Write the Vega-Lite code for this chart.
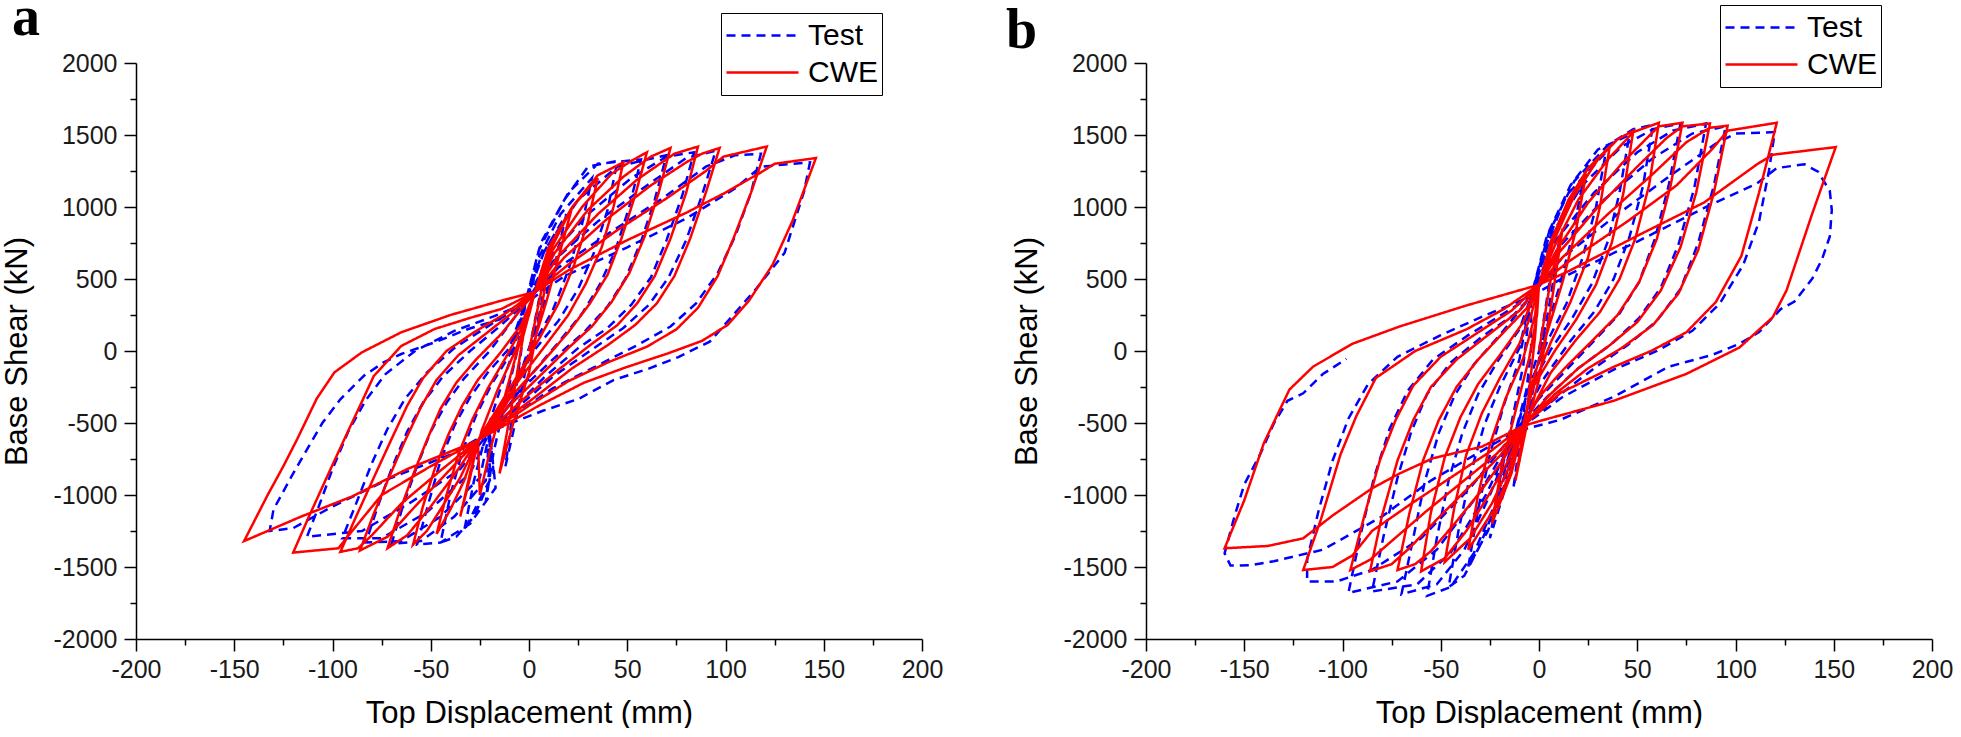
{
"$schema": "https://vega.github.io/schema/vega-lite/v6.json",
"padding": {"left": 1, "top": -11, "right": 5, "bottom": 0},
"bounds": "flush",
"spacing": 224,
"config": {
  "view": {"stroke": null},
  "font": "Liberation Sans",
  "axis": {"grid": false, "domainColor": "black", "domainWidth": 1.5, "tickColor": "black", "tickWidth": 1.5, "tickSize": 12,
    "labelFont": "Liberation Sans", "labelFontSize": 25, "labelColor": "#1a1a1a", "labelFlush": false, "labelOverlap": false,
    "titleFont": "Liberation Sans", "titleFontSize": 31, "titleFontWeight": "normal", "titleColor": "black"},
  "legend": {"orient": "none", "title": null, "strokeColor": "black", "fillColor": "white", "padding": 4,
    "labelFont": "Liberation Sans", "labelFontSize": 30, "labelColor": "black", "labelOffset": 8,
    "symbolType": "stroke", "symbolSize": 5184, "symbolStrokeWidth": 2.5, "clipHeight": 37, "rowPadding": 0},
  "title": {"font": "Liberation Serif", "fontSize": 56, "fontWeight": "bold", "color": "black", "anchor": "start", "frame": "group"}
},
"resolve": {"scale": {"color": "independent", "strokeDash": "independent"}},
"datasets": {
"a": [
{"s":"Test","x":0,"y":0},{"s":"Test","x":5,"y":350},{"s":"Test","x":10,"y":650},{"s":"Test","x":6,"y":300},{"s":"Test","x":-2,"y":-150},{"s":"Test","x":-7,"y":-500},{"s":"Test","x":-12,"y":-800},{"s":"Test","x":-8,"y":-400},{"s":"Test","x":-4,"y":0},{"s":"Test","x":-2,"y":330},
{"s":"Test","x":6,"y":650},{"s":"Test","x":19,"y":950},{"s":"Test","x":14,"y":650},{"s":"Test","x":7,"y":300},{"s":"Test","x":-3,"y":-100},{"s":"Test","x":-12,"y":-350},{"s":"Test","x":-20,"y":-560},{"s":"Test","x":-20,"y":-800},{"s":"Test","x":-22,"y":-1050},{"s":"Test","x":-18,"y":-700},{"s":"Test","x":-12,"y":-350},{"s":"Test","x":-6,"y":0},{"s":"Test","x":-2,"y":330},
{"s":"Test","x":5,"y":650},{"s":"Test","x":16,"y":950},{"s":"Test","x":32,"y":1200},{"s":"Test","x":27,"y":880},{"s":"Test","x":20,"y":560},{"s":"Test","x":12,"y":280},{"s":"Test","x":2,"y":40},{"s":"Test","x":-8,"y":-250},{"s":"Test","x":-20,"y":-560},{"s":"Test","x":-18,"y":-850},{"s":"Test","x":-24,"y":-1000},{"s":"Test","x":-33,"y":-1250},{"s":"Test","x":-28,"y":-900},{"s":"Test","x":-22,"y":-580},{"s":"Test","x":-15,"y":-280},{"s":"Test","x":-8,"y":0},{"s":"Test","x":-2,"y":330},
{"s":"Test","x":5,"y":700},{"s":"Test","x":18,"y":1050},{"s":"Test","x":30,"y":1280},{"s":"Test","x":45,"y":1320},{"s":"Test","x":40,"y":980},{"s":"Test","x":33,"y":680},{"s":"Test","x":25,"y":430},{"s":"Test","x":15,"y":210},{"s":"Test","x":3,"y":10},{"s":"Test","x":-8,"y":-250},{"s":"Test","x":-20,"y":-560},{"s":"Test","x":-20,"y":-900},{"s":"Test","x":-28,"y":-1150},{"s":"Test","x":-37,"y":-1290},{"s":"Test","x":-45,"y":-1330},{"s":"Test","x":-40,"y":-1000},{"s":"Test","x":-34,"y":-700},{"s":"Test","x":-27,"y":-450},{"s":"Test","x":-19,"y":-230},{"s":"Test","x":-10,"y":-30},{"s":"Test","x":-2,"y":330},
{"s":"Test","x":6,"y":750},{"s":"Test","x":20,"y":1100},{"s":"Test","x":35,"y":1300},{"s":"Test","x":57,"y":1330},{"s":"Test","x":51,"y":1000},{"s":"Test","x":44,"y":700},{"s":"Test","x":36,"y":460},{"s":"Test","x":27,"y":260},{"s":"Test","x":15,"y":60},{"s":"Test","x":2,"y":-150},{"s":"Test","x":-20,"y":-560},{"s":"Test","x":-17,"y":-950},{"s":"Test","x":-30,"y":-1200},{"s":"Test","x":-45,"y":-1330},{"s":"Test","x":-57,"y":-1345},{"s":"Test","x":-51,"y":-1050},{"s":"Test","x":-45,"y":-760},{"s":"Test","x":-38,"y":-520},{"s":"Test","x":-30,"y":-320},{"s":"Test","x":-21,"y":-150},{"s":"Test","x":-10,"y":20},{"s":"Test","x":-2,"y":330},
{"s":"Test","x":8,"y":700},{"s":"Test","x":25,"y":1050},{"s":"Test","x":45,"y":1280},{"s":"Test","x":60,"y":1330},{"s":"Test","x":70,"y":1360},{"s":"Test","x":64,"y":1050},{"s":"Test","x":57,"y":760},{"s":"Test","x":49,"y":500},{"s":"Test","x":40,"y":310},{"s":"Test","x":28,"y":130},{"s":"Test","x":12,"y":-60},{"s":"Test","x":-5,"y":-280},{"s":"Test","x":-20,"y":-560},{"s":"Test","x":-22,"y":-900},{"s":"Test","x":-38,"y":-1150},{"s":"Test","x":-55,"y":-1320},{"s":"Test","x":-70,"y":-1340},{"s":"Test","x":-64,"y":-1070},{"s":"Test","x":-57,"y":-800},{"s":"Test","x":-50,"y":-560},{"s":"Test","x":-42,"y":-360},{"s":"Test","x":-33,"y":-190},{"s":"Test","x":-20,"y":0},{"s":"Test","x":-2,"y":330},
{"s":"Test","x":10,"y":650},{"s":"Test","x":30,"y":950},{"s":"Test","x":52,"y":1200},{"s":"Test","x":70,"y":1350},{"s":"Test","x":84,"y":1380},{"s":"Test","x":78,"y":1080},{"s":"Test","x":70,"y":770},{"s":"Test","x":62,"y":510},{"s":"Test","x":52,"y":320},{"s":"Test","x":40,"y":160},{"s":"Test","x":25,"y":20},{"s":"Test","x":8,"y":-180},{"s":"Test","x":-20,"y":-560},{"s":"Test","x":-25,"y":-880},{"s":"Test","x":-45,"y":-1150},{"s":"Test","x":-65,"y":-1320},{"s":"Test","x":-83,"y":-1330},{"s":"Test","x":-77,"y":-1080},{"s":"Test","x":-70,"y":-820},{"s":"Test","x":-62,"y":-560},{"s":"Test","x":-54,"y":-360},{"s":"Test","x":-44,"y":-180},{"s":"Test","x":-30,"y":0},{"s":"Test","x":-15,"y":170},{"s":"Test","x":-2,"y":330},
{"s":"Test","x":12,"y":620},{"s":"Test","x":35,"y":900},{"s":"Test","x":60,"y":1150},{"s":"Test","x":80,"y":1340},{"s":"Test","x":95,"y":1390},{"s":"Test","x":88,"y":1080},{"s":"Test","x":80,"y":770},{"s":"Test","x":71,"y":510},{"s":"Test","x":61,"y":320},{"s":"Test","x":48,"y":160},{"s":"Test","x":32,"y":10},{"s":"Test","x":12,"y":-180},{"s":"Test","x":-20,"y":-560},{"s":"Test","x":-30,"y":-850},{"s":"Test","x":-52,"y":-1120},{"s":"Test","x":-75,"y":-1300},{"s":"Test","x":-95,"y":-1300},{"s":"Test","x":-88,"y":-1060},{"s":"Test","x":-80,"y":-780},{"s":"Test","x":-72,"y":-540},{"s":"Test","x":-63,"y":-330},{"s":"Test","x":-52,"y":-150},{"s":"Test","x":-38,"y":20},{"s":"Test","x":-20,"y":180},{"s":"Test","x":-2,"y":330},
{"s":"Test","x":15,"y":580},{"s":"Test","x":42,"y":830},{"s":"Test","x":68,"y":1060},{"s":"Test","x":90,"y":1280},{"s":"Test","x":105,"y":1360},{"s":"Test","x":118,"y":1370},{"s":"Test","x":113,"y":1100},{"s":"Test","x":105,"y":800},{"s":"Test","x":96,"y":540},{"s":"Test","x":85,"y":330},{"s":"Test","x":72,"y":170},{"s":"Test","x":55,"y":40},{"s":"Test","x":35,"y":-100},{"s":"Test","x":12,"y":-260},{"s":"Test","x":-20,"y":-560},{"s":"Test","x":-35,"y":-820},{"s":"Test","x":-60,"y":-1050},{"s":"Test","x":-85,"y":-1250},{"s":"Test","x":-113,"y":-1290},{"s":"Test","x":-107,"y":-1080},{"s":"Test","x":-100,"y":-820},{"s":"Test","x":-92,"y":-560},{"s":"Test","x":-83,"y":-340},{"s":"Test","x":-73,"y":-160},{"s":"Test","x":-58,"y":0},{"s":"Test","x":-38,"y":140},{"s":"Test","x":-18,"y":240},{"s":"Test","x":-2,"y":330},
{"s":"Test","x":18,"y":520},{"s":"Test","x":50,"y":720},{"s":"Test","x":80,"y":920},{"s":"Test","x":105,"y":1130},{"s":"Test","x":118,"y":1280},{"s":"Test","x":143,"y":1310},{"s":"Test","x":140,"y":1108},{"s":"Test","x":130,"y":680},{"s":"Test","x":116,"y":439},{"s":"Test","x":104,"y":251},{"s":"Test","x":92,"y":65},{"s":"Test","x":76,"y":-42},{"s":"Test","x":61,"y":-122},{"s":"Test","x":43,"y":-202},{"s":"Test","x":25,"y":-334},{"s":"Test","x":7,"y":-415},{"s":"Test","x":-20,"y":-560},{"s":"Test","x":-40,"y":-720},{"s":"Test","x":-70,"y":-880},{"s":"Test","x":-100,"y":-1080},{"s":"Test","x":-120,"y":-1230},{"s":"Test","x":-132,"y":-1250},{"s":"Test","x":-130,"y":-1100},{"s":"Test","x":-120,"y":-850},{"s":"Test","x":-110,"y":-613},{"s":"Test","x":-105,"y":-497},{"s":"Test","x":-96,"y":-335},{"s":"Test","x":-84,"y":-172},{"s":"Test","x":-74,"y":-79},{"s":"Test","x":-65,"y":-21},{"s":"Test","x":-48,"y":60},{"s":"Test","x":-31,"y":153},{"s":"Test","x":-14,"y":223},
{"s":"CWE","x":0,"y":0},{"s":"CWE","x":6,"y":400},{"s":"CWE","x":12,"y":750},{"s":"CWE","x":7,"y":350},{"s":"CWE","x":0,"y":-150},{"s":"CWE","x":-8,"y":-500},{"s":"CWE","x":-15,"y":-850},{"s":"CWE","x":-9,"y":-400},{"s":"CWE","x":-3,"y":100},{"s":"CWE","x":3,"y":410},
{"s":"CWE","x":10,"y":680},{"s":"CWE","x":22,"y":1000},{"s":"CWE","x":16,"y":700},{"s":"CWE","x":9,"y":350},{"s":"CWE","x":0,"y":-50},{"s":"CWE","x":-12,"y":-380},{"s":"CWE","x":-26,"y":-620},{"s":"CWE","x":-25,"y":-1000},{"s":"CWE","x":-20,"y":-700},{"s":"CWE","x":-13,"y":-350},{"s":"CWE","x":-6,"y":0},{"s":"CWE","x":0,"y":250},{"s":"CWE","x":3,"y":410},
{"s":"CWE","x":10,"y":720},{"s":"CWE","x":22,"y":1000},{"s":"CWE","x":35,"y":1200},{"s":"CWE","x":30,"y":900},{"s":"CWE","x":23,"y":600},{"s":"CWE","x":15,"y":330},{"s":"CWE","x":5,"y":80},{"s":"CWE","x":-8,"y":-220},{"s":"CWE","x":-26,"y":-620},{"s":"CWE","x":-30,"y":-880},{"s":"CWE","x":-35,"y":-1150},{"s":"CWE","x":-30,"y":-850},{"s":"CWE","x":-24,"y":-550},{"s":"CWE","x":-16,"y":-270},{"s":"CWE","x":-7,"y":0},{"s":"CWE","x":0,"y":250},{"s":"CWE","x":3,"y":410},
{"s":"CWE","x":10,"y":700},{"s":"CWE","x":22,"y":1000},{"s":"CWE","x":35,"y":1220},{"s":"CWE","x":48,"y":1310},{"s":"CWE","x":43,"y":1000},{"s":"CWE","x":37,"y":720},{"s":"CWE","x":29,"y":470},{"s":"CWE","x":20,"y":250},{"s":"CWE","x":9,"y":50},{"s":"CWE","x":-5,"y":-200},{"s":"CWE","x":-26,"y":-620},{"s":"CWE","x":-33,"y":-900},{"s":"CWE","x":-40,"y":-1100},{"s":"CWE","x":-47,"y":-1270},{"s":"CWE","x":-42,"y":-1000},{"s":"CWE","x":-36,"y":-720},{"s":"CWE","x":-29,"y":-480},{"s":"CWE","x":-21,"y":-260},{"s":"CWE","x":-12,"y":-50},{"s":"CWE","x":-2,"y":200},{"s":"CWE","x":3,"y":410},
{"s":"CWE","x":12,"y":700},{"s":"CWE","x":27,"y":1000},{"s":"CWE","x":42,"y":1230},{"s":"CWE","x":52,"y":1320},{"s":"CWE","x":60,"y":1380},{"s":"CWE","x":54,"y":1080},{"s":"CWE","x":47,"y":780},{"s":"CWE","x":40,"y":530},{"s":"CWE","x":31,"y":330},{"s":"CWE","x":20,"y":130},{"s":"CWE","x":8,"y":-60},{"s":"CWE","x":-8,"y":-300},{"s":"CWE","x":-26,"y":-620},{"s":"CWE","x":-35,"y":-880},{"s":"CWE","x":-45,"y":-1100},{"s":"CWE","x":-52,"y":-1250},{"s":"CWE","x":-59,"y":-1345},{"s":"CWE","x":-54,"y":-1080},{"s":"CWE","x":-48,"y":-820},{"s":"CWE","x":-41,"y":-580},{"s":"CWE","x":-34,"y":-380},{"s":"CWE","x":-26,"y":-200},{"s":"CWE","x":-15,"y":-20},{"s":"CWE","x":-4,"y":180},{"s":"CWE","x":3,"y":410},
{"s":"CWE","x":13,"y":680},{"s":"CWE","x":30,"y":980},{"s":"CWE","x":48,"y":1210},{"s":"CWE","x":62,"y":1350},{"s":"CWE","x":72,"y":1410},{"s":"CWE","x":66,"y":1100},{"s":"CWE","x":59,"y":800},{"s":"CWE","x":51,"y":540},{"s":"CWE","x":42,"y":340},{"s":"CWE","x":32,"y":170},{"s":"CWE","x":20,"y":20},{"s":"CWE","x":5,"y":-180},{"s":"CWE","x":-10,"y":-380},{"s":"CWE","x":-26,"y":-620},{"s":"CWE","x":-38,"y":-860},{"s":"CWE","x":-50,"y":-1080},{"s":"CWE","x":-62,"y":-1280},{"s":"CWE","x":-72,"y":-1370},{"s":"CWE","x":-66,"y":-1120},{"s":"CWE","x":-59,"y":-860},{"s":"CWE","x":-52,"y":-620},{"s":"CWE","x":-45,"y":-400},{"s":"CWE","x":-37,"y":-220},{"s":"CWE","x":-27,"y":-60},{"s":"CWE","x":-14,"y":120},{"s":"CWE","x":3,"y":410},
{"s":"CWE","x":15,"y":660},{"s":"CWE","x":35,"y":950},{"s":"CWE","x":55,"y":1190},{"s":"CWE","x":74,"y":1370},{"s":"CWE","x":86,"y":1420},{"s":"CWE","x":80,"y":1100},{"s":"CWE","x":72,"y":780},{"s":"CWE","x":64,"y":520},{"s":"CWE","x":55,"y":330},{"s":"CWE","x":45,"y":180},{"s":"CWE","x":32,"y":50},{"s":"CWE","x":15,"y":-130},{"s":"CWE","x":0,"y":-300},{"s":"CWE","x":-26,"y":-620},{"s":"CWE","x":-42,"y":-850},{"s":"CWE","x":-58,"y":-1080},{"s":"CWE","x":-72,"y":-1290},{"s":"CWE","x":-86,"y":-1385},{"s":"CWE","x":-79,"y":-1130},{"s":"CWE","x":-71,"y":-870},{"s":"CWE","x":-63,"y":-620},{"s":"CWE","x":-55,"y":-390},{"s":"CWE","x":-47,"y":-200},{"s":"CWE","x":-36,"y":-30},{"s":"CWE","x":-22,"y":120},{"s":"CWE","x":-8,"y":270},{"s":"CWE","x":3,"y":410},
{"s":"CWE","x":18,"y":650},{"s":"CWE","x":40,"y":920},{"s":"CWE","x":62,"y":1150},{"s":"CWE","x":80,"y":1310},{"s":"CWE","x":88,"y":1370},{"s":"CWE","x":97,"y":1410},{"s":"CWE","x":90,"y":1100},{"s":"CWE","x":82,"y":780},{"s":"CWE","x":74,"y":520},{"s":"CWE","x":65,"y":330},{"s":"CWE","x":54,"y":180},{"s":"CWE","x":40,"y":40},{"s":"CWE","x":22,"y":-120},{"s":"CWE","x":5,"y":-300},{"s":"CWE","x":-26,"y":-620},{"s":"CWE","x":-45,"y":-830},{"s":"CWE","x":-65,"y":-1060},{"s":"CWE","x":-80,"y":-1280},{"s":"CWE","x":-87,"y":-1370},{"s":"CWE","x":-96,"y":-1395},{"s":"CWE","x":-88,"y":-1150},{"s":"CWE","x":-79,"y":-880},{"s":"CWE","x":-70,"y":-613},{"s":"CWE","x":-62,"y":-380},{"s":"CWE","x":-54,"y":-190},{"s":"CWE","x":-42,"y":0},{"s":"CWE","x":-28,"y":130},{"s":"CWE","x":-12,"y":260},{"s":"CWE","x":3,"y":410},
{"s":"CWE","x":20,"y":600},{"s":"CWE","x":45,"y":840},{"s":"CWE","x":70,"y":1060},{"s":"CWE","x":90,"y":1250},{"s":"CWE","x":99,"y":1350},{"s":"CWE","x":121,"y":1420},{"s":"CWE","x":113,"y":1100},{"s":"CWE","x":104,"y":780},{"s":"CWE","x":96,"y":520},{"s":"CWE","x":86,"y":300},{"s":"CWE","x":75,"y":150},{"s":"CWE","x":60,"y":30},{"s":"CWE","x":40,"y":-80},{"s":"CWE","x":20,"y":-210},{"s":"CWE","x":0,"y":-380},{"s":"CWE","x":-26,"y":-620},{"s":"CWE","x":-50,"y":-800},{"s":"CWE","x":-75,"y":-1000},{"s":"CWE","x":-90,"y":-1250},{"s":"CWE","x":-97,"y":-1370},{"s":"CWE","x":-120,"y":-1400},{"s":"CWE","x":-112,"y":-1150},{"s":"CWE","x":-103,"y":-880},{"s":"CWE","x":-94,"y":-613},{"s":"CWE","x":-86,"y":-380},{"s":"CWE","x":-79,"y":-174},{"s":"CWE","x":-65,"y":35},{"s":"CWE","x":-48,"y":153},{"s":"CWE","x":-30,"y":230},{"s":"CWE","x":-14,"y":292},{"s":"CWE","x":3,"y":410},
{"s":"CWE","x":20,"y":560},{"s":"CWE","x":50,"y":770},{"s":"CWE","x":80,"y":960},{"s":"CWE","x":100,"y":1100},{"s":"CWE","x":118,"y":1240},{"s":"CWE","x":125,"y":1300},{"s":"CWE","x":146,"y":1340},{"s":"CWE","x":134,"y":900},{"s":"CWE","x":124,"y":600},{"s":"CWE","x":112,"y":350},{"s":"CWE","x":101,"y":180},{"s":"CWE","x":88,"y":70},{"s":"CWE","x":70,"y":-20},{"s":"CWE","x":50,"y":-110},{"s":"CWE","x":28,"y":-220},{"s":"CWE","x":5,"y":-380},{"s":"CWE","x":-26,"y":-620},{"s":"CWE","x":-33,"y":-660},{"s":"CWE","x":-62,"y":-820},{"s":"CWE","x":-90,"y":-1010},{"s":"CWE","x":-116,"y":-1150},{"s":"CWE","x":-145,"y":-1320},{"s":"CWE","x":-133,"y":-1000},{"s":"CWE","x":-125,"y":-800},{"s":"CWE","x":-118,"y":-613},{"s":"CWE","x":-108,"y":-330},{"s":"CWE","x":-99,"y":-148},{"s":"CWE","x":-85,"y":-9},{"s":"CWE","x":-65,"y":130},{"s":"CWE","x":-40,"y":250},{"s":"CWE","x":-14,"y":350},{"s":"CWE","x":3,"y":410}
],
"b": [
{"s":"Test","x":0,"y":0},{"s":"Test","x":5,"y":450},{"s":"Test","x":11,"y":800},{"s":"Test","x":5,"y":300},{"s":"Test","x":-2,"y":-200},{"s":"Test","x":-7,"y":-550},{"s":"Test","x":-13,"y":-950},{"s":"Test","x":-8,"y":-450},{"s":"Test","x":-4,"y":0},{"s":"Test","x":-4,"y":380},
{"s":"Test","x":4,"y":700},{"s":"Test","x":12,"y":950},{"s":"Test","x":22,"y":1150},{"s":"Test","x":17,"y":800},{"s":"Test","x":10,"y":430},{"s":"Test","x":2,"y":80},{"s":"Test","x":-6,"y":-250},{"s":"Test","x":-12,"y":-560},{"s":"Test","x":-16,"y":-900},{"s":"Test","x":-25,"y":-1300},{"s":"Test","x":-20,"y":-900},{"s":"Test","x":-14,"y":-500},{"s":"Test","x":-8,"y":-100},{"s":"Test","x":-4,"y":380},
{"s":"Test","x":4,"y":750},{"s":"Test","x":14,"y":1080},{"s":"Test","x":34,"y":1380},{"s":"Test","x":29,"y":1000},{"s":"Test","x":22,"y":640},{"s":"Test","x":14,"y":330},{"s":"Test","x":4,"y":60},{"s":"Test","x":-5,"y":-250},{"s":"Test","x":-12,"y":-560},{"s":"Test","x":-18,"y":-950},{"s":"Test","x":-26,"y":-1250},{"s":"Test","x":-36,"y":-1500},{"s":"Test","x":-31,"y":-1100},{"s":"Test","x":-25,"y":-720},{"s":"Test","x":-18,"y":-380},{"s":"Test","x":-10,"y":-60},{"s":"Test","x":-4,"y":380},
{"s":"Test","x":4,"y":800},{"s":"Test","x":16,"y":1150},{"s":"Test","x":30,"y":1400},{"s":"Test","x":46,"y":1500},{"s":"Test","x":41,"y":1100},{"s":"Test","x":35,"y":760},{"s":"Test","x":27,"y":470},{"s":"Test","x":17,"y":230},{"s":"Test","x":6,"y":10},{"s":"Test","x":-5,"y":-270},{"s":"Test","x":-12,"y":-560},{"s":"Test","x":-20,"y":-1000},{"s":"Test","x":-30,"y":-1350},{"s":"Test","x":-38,"y":-1560},{"s":"Test","x":-46,"y":-1640},{"s":"Test","x":-41,"y":-1250},{"s":"Test","x":-35,"y":-860},{"s":"Test","x":-28,"y":-520},{"s":"Test","x":-20,"y":-250},{"s":"Test","x":-10,"y":20},{"s":"Test","x":-4,"y":380},
{"s":"Test","x":5,"y":820},{"s":"Test","x":18,"y":1180},{"s":"Test","x":35,"y":1430},{"s":"Test","x":48,"y":1540},{"s":"Test","x":58,"y":1570},{"s":"Test","x":53,"y":1150},{"s":"Test","x":46,"y":790},{"s":"Test","x":38,"y":500},{"s":"Test","x":28,"y":270},{"s":"Test","x":16,"y":70},{"s":"Test","x":3,"y":-180},{"s":"Test","x":-12,"y":-560},{"s":"Test","x":-22,"y":-1050},{"s":"Test","x":-33,"y":-1400},{"s":"Test","x":-45,"y":-1640},{"s":"Test","x":-57,"y":-1700},{"s":"Test","x":-52,"y":-1300},{"s":"Test","x":-46,"y":-900},{"s":"Test","x":-39,"y":-570},{"s":"Test","x":-31,"y":-300},{"s":"Test","x":-21,"y":-70},{"s":"Test","x":-10,"y":150},{"s":"Test","x":-4,"y":380},
{"s":"Test","x":6,"y":800},{"s":"Test","x":22,"y":1150},{"s":"Test","x":42,"y":1420},{"s":"Test","x":58,"y":1540},{"s":"Test","x":72,"y":1580},{"s":"Test","x":66,"y":1150},{"s":"Test","x":59,"y":780},{"s":"Test","x":51,"y":480},{"s":"Test","x":41,"y":260},{"s":"Test","x":28,"y":70},{"s":"Test","x":14,"y":-130},{"s":"Test","x":0,"y":-330},{"s":"Test","x":-12,"y":-560},{"s":"Test","x":-25,"y":-1000},{"s":"Test","x":-38,"y":-1380},{"s":"Test","x":-52,"y":-1620},{"s":"Test","x":-70,"y":-1690},{"s":"Test","x":-64,"y":-1300},{"s":"Test","x":-58,"y":-900},{"s":"Test","x":-51,"y":-570},{"s":"Test","x":-43,"y":-310},{"s":"Test","x":-33,"y":-90},{"s":"Test","x":-20,"y":110},{"s":"Test","x":-4,"y":380},
{"s":"Test","x":8,"y":760},{"s":"Test","x":28,"y":1100},{"s":"Test","x":50,"y":1380},{"s":"Test","x":68,"y":1530},{"s":"Test","x":85,"y":1580},{"s":"Test","x":79,"y":1130},{"s":"Test","x":71,"y":740},{"s":"Test","x":62,"y":440},{"s":"Test","x":51,"y":230},{"s":"Test","x":37,"y":50},{"s":"Test","x":20,"y":-120},{"s":"Test","x":4,"y":-320},{"s":"Test","x":-12,"y":-560},{"s":"Test","x":-27,"y":-1000},{"s":"Test","x":-45,"y":-1400},{"s":"Test","x":-62,"y":-1620},{"s":"Test","x":-85,"y":-1670},{"s":"Test","x":-79,"y":-1280},{"s":"Test","x":-72,"y":-880},{"s":"Test","x":-65,"y":-560},{"s":"Test","x":-57,"y":-300},{"s":"Test","x":-45,"y":-80},{"s":"Test","x":-29,"y":100},{"s":"Test","x":-13,"y":250},{"s":"Test","x":-4,"y":380},
{"s":"Test","x":10,"y":720},{"s":"Test","x":33,"y":1050},{"s":"Test","x":58,"y":1340},{"s":"Test","x":78,"y":1510},{"s":"Test","x":95,"y":1560},{"s":"Test","x":89,"y":1150},{"s":"Test","x":81,"y":750},{"s":"Test","x":72,"y":430},{"s":"Test","x":60,"y":210},{"s":"Test","x":45,"y":40},{"s":"Test","x":28,"y":-120},{"s":"Test","x":10,"y":-310},{"s":"Test","x":-12,"y":-560},{"s":"Test","x":-30,"y":-980},{"s":"Test","x":-52,"y":-1380},{"s":"Test","x":-72,"y":-1600},{"s":"Test","x":-97,"y":-1680},{"s":"Test","x":-91,"y":-1290},{"s":"Test","x":-84,"y":-880},{"s":"Test","x":-76,"y":-540},{"s":"Test","x":-67,"y":-280},{"s":"Test","x":-54,"y":-60},{"s":"Test","x":-36,"y":110},{"s":"Test","x":-18,"y":260},{"s":"Test","x":-4,"y":380},
{"s":"Test","x":12,"y":650},{"s":"Test","x":40,"y":950},{"s":"Test","x":68,"y":1230},{"s":"Test","x":90,"y":1440},{"s":"Test","x":100,"y":1510},{"s":"Test","x":120,"y":1520},{"s":"Test","x":117,"y":1250},{"s":"Test","x":112,"y":900},{"s":"Test","x":104,"y":600},{"s":"Test","x":92,"y":330},{"s":"Test","x":78,"y":140},{"s":"Test","x":60,"y":0},{"s":"Test","x":38,"y":-130},{"s":"Test","x":12,"y":-320},{"s":"Test","x":-12,"y":-560},{"s":"Test","x":-35,"y":-950},{"s":"Test","x":-60,"y":-1300},{"s":"Test","x":-85,"y":-1520},{"s":"Test","x":-103,"y":-1600},{"s":"Test","x":-118,"y":-1600},{"s":"Test","x":-118,"y":-1450},{"s":"Test","x":-112,"y":-1100},{"s":"Test","x":-105,"y":-760},{"s":"Test","x":-97,"y":-470},{"s":"Test","x":-87,"y":-230},{"s":"Test","x":-72,"y":-40},{"s":"Test","x":-50,"y":110},{"s":"Test","x":-27,"y":250},{"s":"Test","x":-4,"y":380},
{"s":"Test","x":15,"y":530},{"s":"Test","x":50,"y":760},{"s":"Test","x":85,"y":1000},{"s":"Test","x":111,"y":1164},{"s":"Test","x":121,"y":1270},{"s":"Test","x":135,"y":1297},{"s":"Test","x":142,"y":1245},{"s":"Test","x":148,"y":1111},{"s":"Test","x":149,"y":978},{"s":"Test","x":148,"y":795},{"s":"Test","x":144,"y":636},{"s":"Test","x":139,"y":501},{"s":"Test","x":130,"y":343},{"s":"Test","x":123,"y":291},{"s":"Test","x":112,"y":131},{"s":"Test","x":102,"y":50},{"s":"Test","x":88,"y":-28},{"s":"Test","x":66,"y":-109},{"s":"Test","x":38,"y":-318},{"s":"Test","x":11,"y":-477},{"s":"Test","x":-12,"y":-560},{"s":"Test","x":-30,"y":-700},{"s":"Test","x":-55,"y":-900},{"s":"Test","x":-80,"y":-1150},{"s":"Test","x":-110,"y":-1380},{"s":"Test","x":-135,"y":-1460},{"s":"Test","x":-147,"y":-1488},{"s":"Test","x":-157,"y":-1490},{"s":"Test","x":-160,"y":-1405},{"s":"Test","x":-155,"y":-1150},{"s":"Test","x":-150,"y":-927},{"s":"Test","x":-142,"y":-720},{"s":"Test","x":-135,"y":-505},{"s":"Test","x":-128,"y":-346},{"s":"Test","x":-120,"y":-294},{"s":"Test","x":-110,"y":-160},{"s":"Test","x":-98,"y":-55},
{"s":"CWE","x":0,"y":0},{"s":"CWE","x":6,"y":500},{"s":"CWE","x":12,"y":850},{"s":"CWE","x":6,"y":300},{"s":"CWE","x":0,"y":-200},{"s":"CWE","x":-6,"y":-500},{"s":"CWE","x":-12,"y":-900},{"s":"CWE","x":-6,"y":-400},{"s":"CWE","x":-2,"y":100},{"s":"CWE","x":0,"y":460},
{"s":"CWE","x":6,"y":760},{"s":"CWE","x":14,"y":1000},{"s":"CWE","x":24,"y":1232},{"s":"CWE","x":19,"y":850},{"s":"CWE","x":12,"y":480},{"s":"CWE","x":4,"y":120},{"s":"CWE","x":-4,"y":-250},{"s":"CWE","x":-8,"y":-520},{"s":"CWE","x":-14,"y":-850},{"s":"CWE","x":-24,"y":-1200},{"s":"CWE","x":-19,"y":-800},{"s":"CWE","x":-12,"y":-420},{"s":"CWE","x":-5,"y":-50},{"s":"CWE","x":-1,"y":250},{"s":"CWE","x":0,"y":460},
{"s":"CWE","x":6,"y":760},{"s":"CWE","x":15,"y":1050},{"s":"CWE","x":25,"y":1270},{"s":"CWE","x":36,"y":1420},{"s":"CWE","x":31,"y":1000},{"s":"CWE","x":25,"y":650},{"s":"CWE","x":16,"y":340},{"s":"CWE","x":6,"y":60},{"s":"CWE","x":-3,"y":-250},{"s":"CWE","x":-8,"y":-520},{"s":"CWE","x":-14,"y":-820},{"s":"CWE","x":-22,"y":-1080},{"s":"CWE","x":-36,"y":-1380},{"s":"CWE","x":-31,"y":-1000},{"s":"CWE","x":-25,"y":-650},{"s":"CWE","x":-17,"y":-330},{"s":"CWE","x":-8,"y":-50},{"s":"CWE","x":-2,"y":250},{"s":"CWE","x":0,"y":460},
{"s":"CWE","x":7,"y":750},{"s":"CWE","x":18,"y":1080},{"s":"CWE","x":30,"y":1330},{"s":"CWE","x":40,"y":1470},{"s":"CWE","x":48,"y":1530},{"s":"CWE","x":43,"y":1100},{"s":"CWE","x":37,"y":750},{"s":"CWE","x":29,"y":460},{"s":"CWE","x":19,"y":220},{"s":"CWE","x":8,"y":0},{"s":"CWE","x":-3,"y":-250},{"s":"CWE","x":-8,"y":-520},{"s":"CWE","x":-15,"y":-800},{"s":"CWE","x":-24,"y":-1060},{"s":"CWE","x":-35,"y":-1300},{"s":"CWE","x":-48,"y":-1466},{"s":"CWE","x":-43,"y":-1080},{"s":"CWE","x":-37,"y":-720},{"s":"CWE","x":-29,"y":-430},{"s":"CWE","x":-20,"y":-190},{"s":"CWE","x":-10,"y":50},{"s":"CWE","x":-4,"y":250},{"s":"CWE","x":0,"y":460},
{"s":"CWE","x":8,"y":730},{"s":"CWE","x":20,"y":1050},{"s":"CWE","x":35,"y":1330},{"s":"CWE","x":48,"y":1520},{"s":"CWE","x":61,"y":1585},{"s":"CWE","x":56,"y":1150},{"s":"CWE","x":49,"y":780},{"s":"CWE","x":41,"y":500},{"s":"CWE","x":31,"y":270},{"s":"CWE","x":19,"y":80},{"s":"CWE","x":6,"y":-150},{"s":"CWE","x":-8,"y":-520},{"s":"CWE","x":-16,"y":-770},{"s":"CWE","x":-26,"y":-1010},{"s":"CWE","x":-37,"y":-1250},{"s":"CWE","x":-48,"y":-1440},{"s":"CWE","x":-60,"y":-1530},{"s":"CWE","x":-55,"y":-1120},{"s":"CWE","x":-48,"y":-740},{"s":"CWE","x":-40,"y":-460},{"s":"CWE","x":-31,"y":-230},{"s":"CWE","x":-20,"y":-30},{"s":"CWE","x":-8,"y":200},{"s":"CWE","x":0,"y":460},
{"s":"CWE","x":9,"y":700},{"s":"CWE","x":25,"y":1030},{"s":"CWE","x":42,"y":1300},{"s":"CWE","x":55,"y":1480},{"s":"CWE","x":61,"y":1560},{"s":"CWE","x":73,"y":1585},{"s":"CWE","x":67,"y":1150},{"s":"CWE","x":60,"y":780},{"s":"CWE","x":51,"y":480},{"s":"CWE","x":40,"y":250},{"s":"CWE","x":27,"y":70},{"s":"CWE","x":13,"y":-120},{"s":"CWE","x":0,"y":-320},{"s":"CWE","x":-8,"y":-520},{"s":"CWE","x":-18,"y":-750},{"s":"CWE","x":-30,"y":-980},{"s":"CWE","x":-43,"y":-1200},{"s":"CWE","x":-55,"y":-1390},{"s":"CWE","x":-63,"y":-1480},{"s":"CWE","x":-72,"y":-1521},{"s":"CWE","x":-66,"y":-1130},{"s":"CWE","x":-59,"y":-760},{"s":"CWE","x":-51,"y":-480},{"s":"CWE","x":-42,"y":-250},{"s":"CWE","x":-31,"y":-60},{"s":"CWE","x":-18,"y":130},{"s":"CWE","x":-6,"y":300},{"s":"CWE","x":0,"y":460},
{"s":"CWE","x":10,"y":680},{"s":"CWE","x":30,"y":1000},{"s":"CWE","x":50,"y":1280},{"s":"CWE","x":65,"y":1480},{"s":"CWE","x":73,"y":1560},{"s":"CWE","x":87,"y":1580},{"s":"CWE","x":80,"y":1100},{"s":"CWE","x":72,"y":720},{"s":"CWE","x":62,"y":420},{"s":"CWE","x":50,"y":200},{"s":"CWE","x":36,"y":40},{"s":"CWE","x":20,"y":-120},{"s":"CWE","x":5,"y":-310},{"s":"CWE","x":-8,"y":-520},{"s":"CWE","x":-20,"y":-730},{"s":"CWE","x":-36,"y":-950},{"s":"CWE","x":-52,"y":-1170},{"s":"CWE","x":-66,"y":-1370},{"s":"CWE","x":-75,"y":-1480},{"s":"CWE","x":-86,"y":-1530},{"s":"CWE","x":-80,"y":-1150},{"s":"CWE","x":-72,"y":-760},{"s":"CWE","x":-64,"y":-480},{"s":"CWE","x":-55,"y":-250},{"s":"CWE","x":-42,"y":-60},{"s":"CWE","x":-26,"y":110},{"s":"CWE","x":-10,"y":280},{"s":"CWE","x":0,"y":460},
{"s":"CWE","x":12,"y":650},{"s":"CWE","x":35,"y":950},{"s":"CWE","x":58,"y":1230},{"s":"CWE","x":75,"y":1450},{"s":"CWE","x":87,"y":1550},{"s":"CWE","x":96,"y":1565},{"s":"CWE","x":89,"y":1100},{"s":"CWE","x":81,"y":700},{"s":"CWE","x":71,"y":400},{"s":"CWE","x":58,"y":180},{"s":"CWE","x":42,"y":20},{"s":"CWE","x":25,"y":-120},{"s":"CWE","x":8,"y":-300},{"s":"CWE","x":-8,"y":-520},{"s":"CWE","x":-22,"y":-720},{"s":"CWE","x":-40,"y":-920},{"s":"CWE","x":-58,"y":-1120},{"s":"CWE","x":-75,"y":-1320},{"s":"CWE","x":-86,"y":-1450},{"s":"CWE","x":-96,"y":-1521},{"s":"CWE","x":-89,"y":-1150},{"s":"CWE","x":-81,"y":-760},{"s":"CWE","x":-73,"y":-480},{"s":"CWE","x":-64,"y":-240},{"s":"CWE","x":-50,"y":-40},{"s":"CWE","x":-32,"y":120},{"s":"CWE","x":-14,"y":280},{"s":"CWE","x":0,"y":460},
{"s":"CWE","x":15,"y":620},{"s":"CWE","x":45,"y":900},{"s":"CWE","x":70,"y":1150},{"s":"CWE","x":88,"y":1400},{"s":"CWE","x":96,"y":1530},{"s":"CWE","x":121,"y":1585},{"s":"CWE","x":112,"y":1100},{"s":"CWE","x":103,"y":660},{"s":"CWE","x":90,"y":340},{"s":"CWE","x":75,"y":130},{"s":"CWE","x":57,"y":0},{"s":"CWE","x":38,"y":-110},{"s":"CWE","x":11,"y":-290},{"s":"CWE","x":-8,"y":-520},{"s":"CWE","x":-25,"y":-700},{"s":"CWE","x":-45,"y":-880},{"s":"CWE","x":-65,"y":-1060},{"s":"CWE","x":-85,"y":-1250},{"s":"CWE","x":-95,"y":-1420},{"s":"CWE","x":-105,"y":-1500},{"s":"CWE","x":-120,"y":-1521},{"s":"CWE","x":-111,"y":-1170},{"s":"CWE","x":-101,"y":-718},{"s":"CWE","x":-93,"y":-453},{"s":"CWE","x":-83,"y":-187},{"s":"CWE","x":-63,"y":0},{"s":"CWE","x":-37,"y":150},{"s":"CWE","x":-18,"y":290},{"s":"CWE","x":0,"y":460},
{"s":"CWE","x":15,"y":554},{"s":"CWE","x":50,"y":800},{"s":"CWE","x":84,"y":1031},{"s":"CWE","x":111,"y":1297},{"s":"CWE","x":119,"y":1363},{"s":"CWE","x":151,"y":1416},{"s":"CWE","x":139,"y":952},{"s":"CWE","x":126,"y":422},{"s":"CWE","x":119,"y":235},{"s":"CWE","x":102,"y":24},{"s":"CWE","x":75,"y":-159},{"s":"CWE","x":38,"y":-346},{"s":"CWE","x":2,"y":-480},{"s":"CWE","x":-8,"y":-520},{"s":"CWE","x":-29,"y":-664},{"s":"CWE","x":-54,"y":-745},{"s":"CWE","x":-71,"y":-851},{"s":"CWE","x":-85,"y":-954},{"s":"CWE","x":-105,"y":-1142},{"s":"CWE","x":-120,"y":-1301},{"s":"CWE","x":-138,"y":-1354},{"s":"CWE","x":-160,"y":-1370},{"s":"CWE","x":-150,"y":-1037},{"s":"CWE","x":-140,"y":-639},{"s":"CWE","x":-127,"y":-268},{"s":"CWE","x":-115,"y":-109},{"s":"CWE","x":-95,"y":50},{"s":"CWE","x":-71,"y":170},{"s":"CWE","x":-37,"y":316},{"s":"CWE","x":0,"y":460}
]
},
"hconcat": [
{
  "width": 786, "height": 576,
  "title": {"text": "a", "dx": -124, "dy": 38},
  "data": {"name": "a"},
  "mark": {"type": "line", "strokeWidth": 2.5, "clip": false},
  "encoding": {
    "x": {"field": "x", "type": "quantitative", "scale": {"domain": [-200, 200], "nice": false},
      "axis": {"title": "Top Displacement (mm)", "values": [-200,-175,-150,-125,-100,-75,-50,-25,0,25,50,75,100,125,150,175,200],
        "labelExpr": "datum.value % 50 === 0 ? '' + datum.value : ''",
        "tickSize": {"condition": {"test": "datum.value % 50 !== 0", "value": 6}, "value": 12},
        "labelPadding": 6, "titlePadding": 16}},
    "y": {"field": "y", "type": "quantitative", "scale": {"domain": [-2000, 2000], "nice": false},
      "axis": {"title": "Base Shear (kN)", "values": [-2000,-1750,-1500,-1250,-1000,-750,-500,-250,0,250,500,750,1000,1250,1500,1750,2000],
        "labelExpr": "datum.value % 500 === 0 ? '' + datum.value : ''",
        "tickSize": {"condition": {"test": "datum.value % 500 !== 0", "value": 6}, "value": 12},
        "labelPadding": 7, "titlePadding": 20}},
    "color": {"field": "s", "type": "nominal", "scale": {"domain": ["Test", "CWE"], "range": ["#0000ff", "#ff0000"]},
      "legend": {"legendX": 585, "legendY": -50}},
    "strokeDash": {"field": "s", "type": "nominal", "scale": {"domain": ["Test", "CWE"], "range": [[9, 6], [1, 0]]},
      "legend": {"legendX": 585, "legendY": -50}},
    "order": {"value": null}
  }
},
{
  "width": 786, "height": 576,
  "title": {"text": "b", "dx": -140, "dy": 59},
  "data": {"name": "b"},
  "mark": {"type": "line", "strokeWidth": 2.5, "clip": false},
  "encoding": {
    "x": {"field": "x", "type": "quantitative", "scale": {"domain": [-200, 200], "nice": false},
      "axis": {"title": "Top Displacement (mm)", "values": [-200,-175,-150,-125,-100,-75,-50,-25,0,25,50,75,100,125,150,175,200],
        "labelExpr": "datum.value % 50 === 0 ? '' + datum.value : ''",
        "tickSize": {"condition": {"test": "datum.value % 50 !== 0", "value": 6}, "value": 12},
        "labelPadding": 6, "titlePadding": 16}},
    "y": {"field": "y", "type": "quantitative", "scale": {"domain": [-2000, 2000], "nice": false},
      "axis": {"title": "Base Shear (kN)", "values": [-2000,-1750,-1500,-1250,-1000,-750,-500,-250,0,250,500,750,1000,1250,1500,1750,2000],
        "labelExpr": "datum.value % 500 === 0 ? '' + datum.value : ''",
        "tickSize": {"condition": {"test": "datum.value % 500 !== 0", "value": 6}, "value": 12},
        "labelPadding": 7, "titlePadding": 20}},
    "color": {"field": "s", "type": "nominal", "scale": {"domain": ["Test", "CWE"], "range": ["#0000ff", "#ff0000"]},
      "legend": {"legendX": 574, "legendY": -58}},
    "strokeDash": {"field": "s", "type": "nominal", "scale": {"domain": ["Test", "CWE"], "range": [[9, 6], [1, 0]]},
      "legend": {"legendX": 574, "legendY": -58}},
    "order": {"value": null}
  }
}
]
}
